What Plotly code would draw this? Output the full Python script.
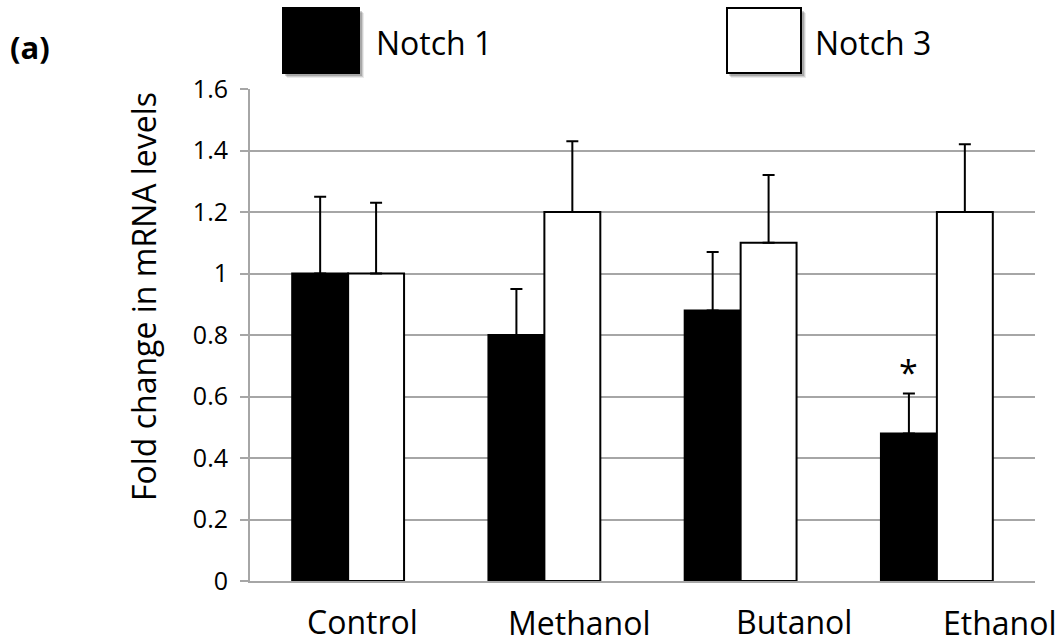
import plotly.graph_objects as go

# ---- data ----
categories = ["Control", "Methanol", "Butanol", "Ethanol"]
notch1_values = [1.00, 0.80, 0.88, 0.48]
notch1_err_plus = [0.25, 0.15, 0.19, 0.13]
notch3_values = [1.00, 1.20, 1.10, 1.20]
notch3_err_plus = [0.23, 0.23, 0.22, 0.22]
series_names = ["Notch 1", "Notch 3"]
y_ticks = [0, 0.2, 0.4, 0.6, 0.8, 1.0, 1.2, 1.4, 1.6]
y_tick_labels = ["0", "0.2", "0.4", "0.6", "0.8", "1", "1.2", "1.4", "1.6"]
y_title = "Fold change in mRNA levels"
panel_label = "(a)"
significance_mark = "*"

# ---- layout geometry (pixels) ----
W, H = 1064, 643
L, R, T, B = 250, 1035, 89, 581
FONT = "Open Sans"


def px(x):
    return (x - L) / (R - L)


def py(y):
    return (B - y) / (B - T)


fig = go.Figure()
fig.add_trace(go.Bar(
    x=categories, y=notch1_values, name=series_names[0],
    marker=dict(color="black", line=dict(color="black", width=2)),
    error_y=dict(type="data", symmetric=False, array=notch1_err_plus,
                 arrayminus=[0] * len(notch1_values),
                 color="black", thickness=2, width=6),
))
fig.add_trace(go.Bar(
    x=categories, y=notch3_values, name=series_names[1],
    marker=dict(color="white", line=dict(color="black", width=2)),
    error_y=dict(type="data", symmetric=False, array=notch3_err_plus,
                 arrayminus=[0] * len(notch3_values),
                 color="black", thickness=2, width=6),
))

annotations = []
shapes = []

# category labels (staggered, offset like the original)
cat_shift = [14, 35, 53, 63]
cat_y = [621, 622, 621, 622]
for c, dx, yy in zip(categories, cat_shift, cat_y):
    annotations.append(dict(
        x=c, xref="x", xshift=dx, y=py(yy), yref="paper",
        text=c, showarrow=False, xanchor="center", yanchor="middle",
        borderpad=0,
        font=dict(family=FONT, size=32, color="black")))

# y-axis title
annotations.append(dict(
    x=px(143), xref="paper", y=py(297), yref="paper", text=y_title,
    textangle=-90, showarrow=False, xanchor="center", yanchor="middle",
    font=dict(family=FONT, size=32, color="black")))

# panel label
annotations.append(dict(
    x=px(30), xref="paper", y=py(47), yref="paper", text="<b>%s</b>" % panel_label,
    showarrow=False, xanchor="center", yanchor="middle",
    font=dict(family=FONT, size=31, color="black")))

# significance asterisk above Ethanol Notch 1 error bar
annotations.append(dict(
    x=categories[3], xref="x", xshift=-28,
    y=notch1_values[3] + notch1_err_plus[3], yref="y", yshift=-4,
    text=significance_mark, showarrow=False, xanchor="center", yanchor="bottom",
    font=dict(family=FONT, size=34, color="black")))

# manual legend
legend_boxes = [(283, 359, "black"), (727, 801, "white")]
legend_text_x = [374, 813]
for (x0, x1, col), tx, name in zip(legend_boxes, legend_text_x, series_names):
    for off, alpha in [(5, 0.08), (4, 0.12), (3, 0.18)]:
        shapes.append(dict(type="rect", xref="paper", yref="paper",
                           x0=px(x0 + off - 1), x1=px(x1 + off), y0=py(73 + off), y1=py(8 + off),
                           fillcolor="rgba(0,0,0,%.2f)" % alpha, line=dict(width=0)))
    shapes.append(dict(type="rect", xref="paper", yref="paper",
                       x0=px(x0), x1=px(x1), y0=py(73), y1=py(8),
                       fillcolor=col, line=dict(color="black", width=2)))
    annotations.append(dict(
        x=px(tx), xref="paper", y=py(43), yref="paper", text=name,
        showarrow=False, xanchor="left", yanchor="middle",
        font=dict(family=FONT, size=32, color="black")))

fig.update_layout(
    width=W, height=H,
    margin=dict(l=L, r=W - R, t=T, b=H - B, autoexpand=False),
    paper_bgcolor="white", plot_bgcolor="white",
    barmode="group", bargap=0.43, bargroupgap=0,
    showlegend=False,
    annotations=annotations, shapes=shapes,
    font=dict(family=FONT, color="black"),
)
fig.update_xaxes(showticklabels=False, showgrid=False, zeroline=False,
                 range=[-0.5, 3.5], autorange=False, automargin=False,
                 showline=True, linecolor="#a6a6a6", linewidth=2, ticks="")
fig.update_yaxes(range=[0, 1.6], tickvals=y_ticks, ticktext=y_tick_labels,
                 automargin=False,
                 showgrid=True, gridcolor="#a6a6a6", gridwidth=2, zeroline=False,
                 showline=True, linecolor="#a6a6a6", linewidth=2,
                 ticks="outside", ticklen=8, tickcolor="#a6a6a6", tickwidth=2,
                 ticklabelstandoff=7,
                 tickfont=dict(family=FONT, size=25, color="black"))

fig.write_html("out.html")
